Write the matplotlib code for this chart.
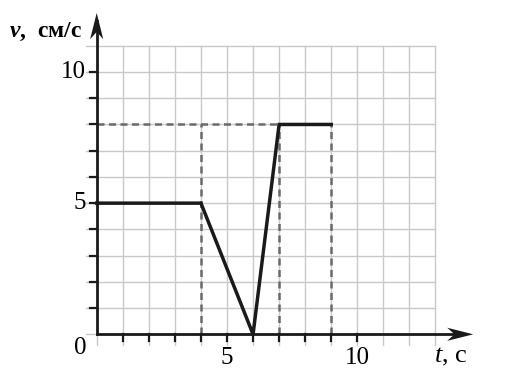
import matplotlib
matplotlib.use('Agg')
import numpy as np
import matplotlib.pyplot as plt
from matplotlib.patches import Polygon

# graph data: velocity vs time
t_pts = [0, 4, 6, 7, 9]
v_pts = [5, 5, 0, 8, 8]

# dashed guide lines
guide_t = [4, 7, 9]
guide_v = 8
guide_t_end = 7

x_ticks = list(range(1, 11))
y_ticks = list(range(1, 11))
x_labels = {5: '5', 10: '10'}
y_labels = {5: '5', 10: '10'}

GRID_X = 13
GRID_Y = 11

plt.rcParams.update({
    'font.family': ['Liberation Serif', 'DejaVu Serif'],
    'mathtext.fontset': 'custom',
    'mathtext.it': 'Liberation Serif:italic',
    'mathtext.rm': 'Liberation Serif',
    'mathtext.bfit': 'Liberation Serif:italic:bold',
})

fig = plt.figure(figsize=(5.06, 3.82), dpi=100)
ax = fig.add_axes([0, 0, 1, 1])
ux, uy = 26.06, 26.23
x0, y0 = 96.7, 382 - 334.3
ax.set_xlim(-x0 / ux, (506 - x0) / ux)
ax.set_ylim(-y0 / uy, (382 - y0) / uy)
ax.axis('off')

# grid (extends a little past the axes on the left / bottom)
ext = 0.4
gc = '#c9c9c9'
for gx in range(0, GRID_X + 1):
    ax.plot([gx, gx], [-ext, GRID_Y], color=gc, lw=1.0, zorder=1)
for gy in range(0, GRID_Y + 1):
    ax.plot([-ext, GRID_X], [gy, gy], color=gc, lw=1.0, zorder=1)

# dashed guides
dc = '#6a6a6a'
ax.plot([0, guide_t_end], [guide_v, guide_v], color=dc, lw=1.8,
        ls=(0, (2.8, 1.8)), zorder=2)
for gt in guide_t:
    ax.plot([gt, gt], [0, guide_v], color=dc, lw=1.8,
            ls=(0, (2.8, 1.8)), zorder=2)

# axes
x_end, y_end = 14.45, 12.25
ax.plot([0, x_end - 0.3], [0, 0], color='#1a1a1a', lw=2.0, zorder=3)
ax.plot([0, 0], [0, y_end - 0.3], color='#1a1a1a', lw=2.0, zorder=3)


def stealth(tip, direction):
    L, W, notch = 1.0, 0.25, 0.72
    tx, ty = tip
    if direction == 'x':
        pts = [(tx, ty), (tx - L, ty + W), (tx - L * notch, ty), (tx - L, ty - W)]
    else:
        Lx, Wx = L * ux / uy, W * uy / ux
        pts = [(tx, ty), (tx - Wx, ty - L), (tx, ty - L * notch), (tx + Wx, ty - L)]
    ax.add_patch(Polygon(pts, closed=True, color='#1a1a1a', zorder=4, lw=0))


stealth((x_end, 0), 'x')
stealth((0, y_end), 'y')

# tick marks
tl = 0.25
for xt in x_ticks:
    ax.plot([xt, xt], [0, -tl], color='#1a1a1a', lw=1.6, zorder=3)
for yt in y_ticks:
    ax.plot([0, -tl], [yt, yt], color='#1a1a1a', lw=1.6, zorder=3)

fs = 18
for xt, lab in x_labels.items():
    ax.text(xt, -0.48, lab, ha='center', va='top', fontsize=fs)
for yt, lab in y_labels.items():
    ax.text(-0.4, yt, lab, ha='right', va='center', fontsize=fs)
ax.text(-0.4, -0.52, '0', ha='right', va='center', fontsize=fs)

ax.text(-0.56, 11.52, r'$\mathbfit{v}$,  см/с', ha='right', va='center',
        fontsize=17, fontweight='bold')
ax.text(14.21, -0.87, r'$t$, с', ha='right', va='center', fontsize=19)

# the velocity graph
ax.plot(t_pts, v_pts, color='#1a1a1a', lw=2.5, solid_joinstyle='miter', zorder=5)

fig.savefig('out.png', dpi=100)
